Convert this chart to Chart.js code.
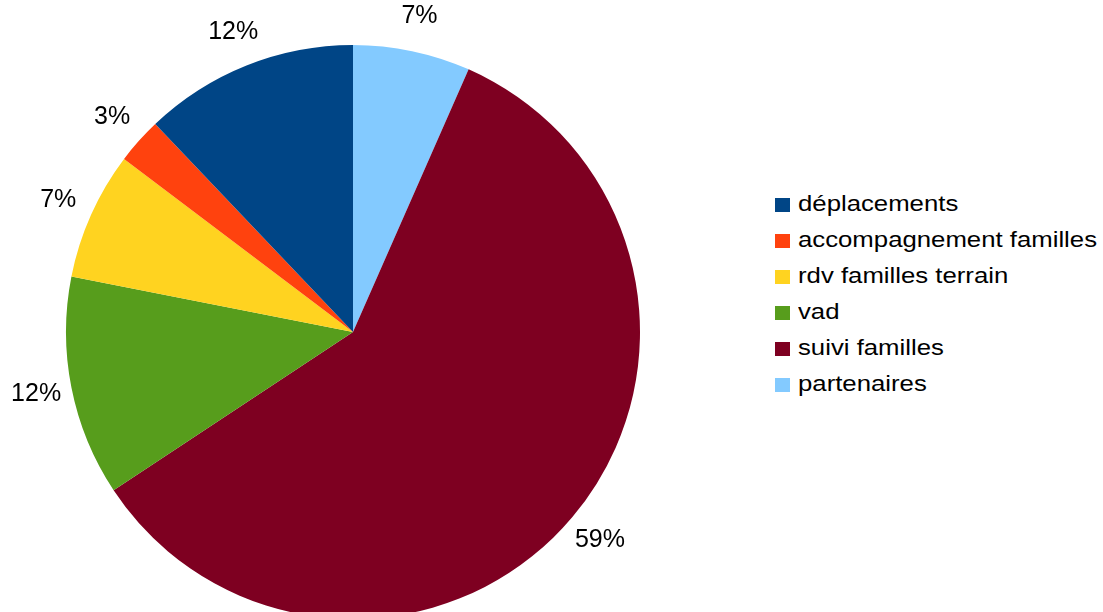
<!DOCTYPE html>
<html>
<head>
<meta charset="utf-8">
<script src="https://cdn.jsdelivr.net/npm/chart.js@4.4.1/dist/chart.umd.min.js"></script>
<style>
  html, body { margin: 0; padding: 0; background: #fff; overflow: hidden; }
  body { width: 1103px; height: 612px; position: relative; font-family: 'Liberation Sans', Arial, sans-serif; }
  .pie_wrap { position: absolute; left: 0; top: 0; width: 706px; height: 664px; }
  .legend { position: absolute; left: 775px; top: 186px; margin: 0; padding: 0; list-style: none; }
  .legend li { height: 36px; line-height: 36px; font-size: 22px; color: #000; white-space: nowrap; }
  .legend .box { display: inline-block; width: 15px; height: 14px; margin-right: 8px; vertical-align: -1px; }
  .legend .txt { display: inline-block; transform: scaleX(1.17); transform-origin: left center; }
</style>
</head>
<body>
<div class="pie_wrap"><canvas id="pieChart"></canvas></div>
<ul class="legend" id="pieLegend"></ul>
<script>
// legend order (the pie runs counter-clockwise from the top in this order)
const categories = ['déplacements', 'accompagnement familles', 'rdv familles terrain', 'vad', 'suivi familles', 'partenaires']
const values = [12.1, 2.6, 7.2, 12.4, 59.1, 6.6]
const colors = ['#004586', '#ff420e', '#ffd320', '#579d1c', '#7e0021', '#83caff']

// Chart.js draws clockwise, so feed it reversed
const pieLabels = categories.slice().reverse()
const pieValues = values.slice().reverse()
const pieColors = colors.slice().reverse()

const total = values.reduce((a, b) => a + b, 0)

// percent labels outside the slices
const outsideLabels = {
  id: 'outsideLabels',
  afterDatasetsDraw(chart) {
    const ctx = chart.ctx
    const meta = chart.getDatasetMeta(0)
    ctx.save()
    ctx.font = '25px "Liberation Sans", Arial, sans-serif'
    ctx.fillStyle = '#000'
    ctx.textAlign = 'center'
    ctx.textBaseline = 'middle'
    meta.data.forEach((arc, i) => {
      const mid = (arc.startAngle + arc.endAngle) / 2
      const r = arc.outerRadius + 36
      const pct = Math.round(pieValues[i] / total * 100) + '%'
      ctx.fillText(pct, arc.x + Math.cos(mid) * r, arc.y + Math.sin(mid) * r)
    })
    ctx.restore()
  },
}

const ctx = document.getElementById('pieChart').getContext('2d')
const pieChart = new Chart(ctx, {
  type: 'pie',
  data: {
    labels: pieLabels,
    datasets: [
      {
        data: pieValues,
        backgroundColor: pieColors,
        borderWidth: 0,
      },
    ],
  },
  options: {
    responsive: true,
    maintainAspectRatio: false,
    animation: false,
    layout: { padding: 45 },
    plugins: {
      legend: { display: false },
      tooltip: { enabled: false },
    },
  },
  plugins: [outsideLabels],
})

// legend built from the arrays
const legendEl = document.getElementById('pieLegend')
categories.forEach((name, i) => {
  const li = document.createElement('li')
  const box = document.createElement('span')
  box.className = 'box'
  box.style.background = colors[i]
  const txt = document.createElement('span')
  txt.className = 'txt'
  txt.textContent = name
  li.appendChild(box)
  li.appendChild(txt)
  legendEl.appendChild(li)
})
</script>
</body>
</html>
